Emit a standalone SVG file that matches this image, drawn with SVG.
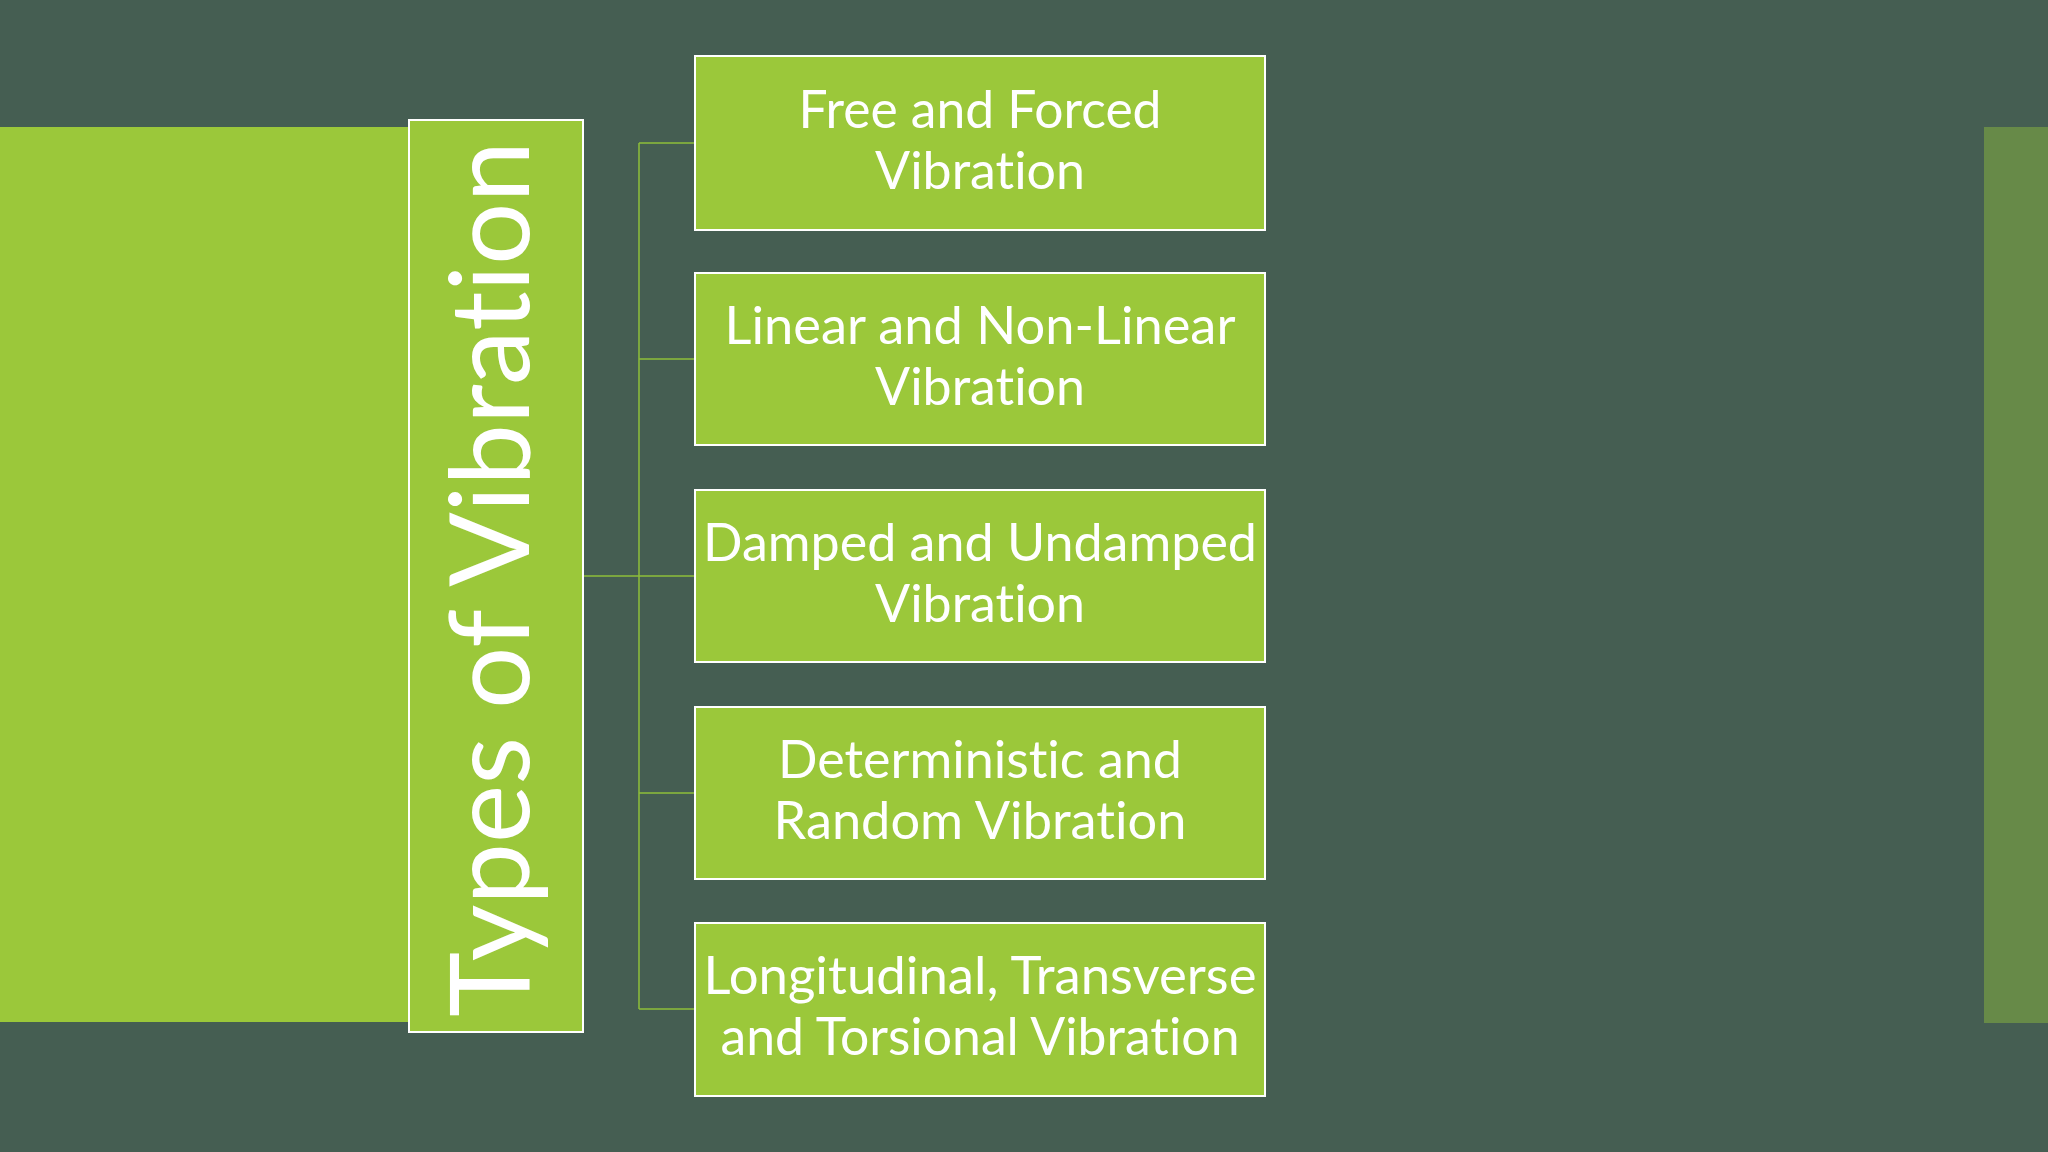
<svg xmlns="http://www.w3.org/2000/svg" width="2048" height="1152" viewBox="0 0 2048 1152">
  <style>
    .box { fill: #9BC83A; stroke: #FFFFFF; stroke-width: 2; }
    .lbl { font-family: Lato, "Open Sans", "Liberation Sans", sans-serif; font-size: 53px; fill: #FFFFFF; text-anchor: middle; font-variant-ligatures: none; }
    .title { font-family: Lato, "Open Sans", "Liberation Sans", sans-serif; font-size: 110px; fill: #FFFFFF; font-variant-ligatures: none; }
    .conn { stroke: #8DBE3A; stroke-width: 1.5; fill: none; }
  </style>
  <rect x="0" y="0" width="2048" height="1152" fill="#455E52"/>
  <rect x="0" y="127" width="409" height="895" fill="#9BC83A"/>
  <rect x="1984" y="127" width="64" height="896" fill="#678A48"/>

  <g id="connectors">
    <path class="conn" d="M583 576 H639 M639 143 V1009 M639 143 H695 M639 359 H695 M639 576 H695 M639 793 H695 M639 1009 H695"/>
  </g>

  <g id="title-node">
    <rect class="box" x="409" y="120" width="174" height="912"/>
    <text class="title" transform="translate(529,1017) rotate(-90)" textLength="876" lengthAdjust="spacingAndGlyphs">Types of Vibration</text>
  </g>

  <g id="node-free-forced">
    <rect class="box" x="695" y="56" width="570" height="174"/>
    <text class="lbl" x="980" y="128" textLength="363" lengthAdjust="spacingAndGlyphs">Free and Forced</text>
    <text class="lbl" x="980" y="189" textLength="210" lengthAdjust="spacingAndGlyphs">Vibration</text>
  </g>

  <g id="node-linear">
    <rect class="box" x="695" y="273" width="570" height="172"/>
    <text class="lbl" x="980" y="344" textLength="511" lengthAdjust="spacingAndGlyphs">Linear and Non-Linear</text>
    <text class="lbl" x="980" y="405" textLength="210" lengthAdjust="spacingAndGlyphs">Vibration</text>
  </g>

  <g id="node-damped">
    <rect class="box" x="695" y="490" width="570" height="172"/>
    <text class="lbl" x="980" y="561" textLength="554" lengthAdjust="spacingAndGlyphs">Damped and Undamped</text>
    <text class="lbl" x="980" y="622" textLength="210" lengthAdjust="spacingAndGlyphs">Vibration</text>
  </g>

  <g id="node-deterministic">
    <rect class="box" x="695" y="707" width="570" height="172"/>
    <text class="lbl" x="980" y="778" textLength="404" lengthAdjust="spacingAndGlyphs">Deterministic and</text>
    <text class="lbl" x="980" y="839" textLength="413" lengthAdjust="spacingAndGlyphs">Random Vibration</text>
  </g>

  <g id="node-longitudinal">
    <rect class="box" x="695" y="923" width="570" height="173"/>
    <text class="lbl" x="980" y="994" textLength="553" lengthAdjust="spacingAndGlyphs">Longitudinal, Transverse</text>
    <text class="lbl" x="980" y="1055" textLength="519" lengthAdjust="spacingAndGlyphs">and Torsional Vibration</text>
  </g>
</svg>
